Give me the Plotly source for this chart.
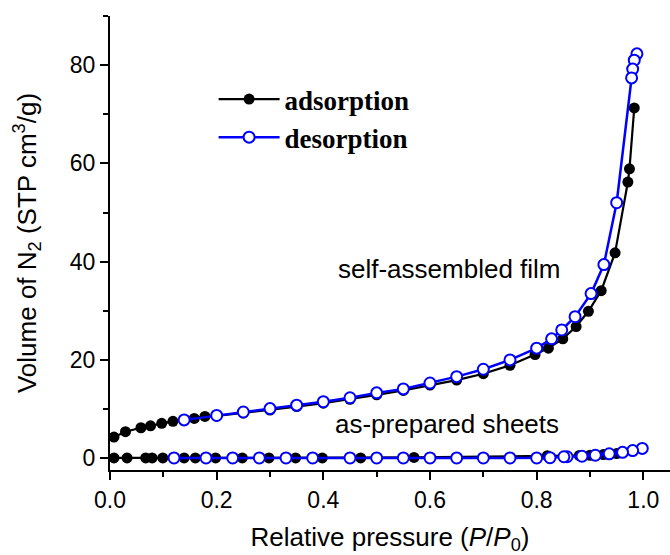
import plotly.graph_objects as go

# Self-assembled film
film_ads_x = [0.0075, 0.029, 0.058, 0.076, 0.097, 0.118, 0.158, 0.178, 0.20, 0.25, 0.30, 0.35, 0.40,
              0.45, 0.50, 0.55, 0.60, 0.65, 0.70, 0.75, 0.797, 0.822, 0.849, 0.874, 0.897, 0.921,
              0.947, 0.971, 0.974, 0.983]
film_ads_y = [4.3, 5.4, 6.2, 6.6, 7.1, 7.5, 8.1, 8.5, 8.6, 9.2, 9.8, 10.5, 11.2,
              12.0, 12.9, 13.8, 14.9, 15.9, 17.2, 18.9, 21.1, 22.4, 24.3, 26.8, 29.9, 34.1,
              41.8, 56.2, 58.9, 71.3]
film_des_x = [0.988, 0.983, 0.980, 0.978, 0.950, 0.926, 0.902, 0.872, 0.847, 0.828, 0.80, 0.75,
              0.70, 0.65, 0.60, 0.55, 0.50, 0.45, 0.40, 0.35, 0.30, 0.25, 0.20, 0.139]
film_des_y = [82.3, 81.0, 79.2, 77.4, 52.0, 39.4, 33.5, 28.8, 26.1, 24.3, 22.4, 20.0,
              18.1, 16.6, 15.3, 14.1, 13.3, 12.3, 11.5, 10.8, 10.1, 9.4, 8.7, 7.8]

# As-prepared sheets
sheet_ads_x = [0.0075, 0.032, 0.067, 0.079, 0.099, 0.139, 0.160, 0.198, 0.248, 0.298, 0.348,
               0.398, 0.470, 0.570, 0.82, 0.88, 0.90, 0.925, 0.95]
sheet_ads_y = [0.05, 0.05, 0.05, 0.05, 0.05, 0.05, 0.05, 0.05, 0.05, 0.05, 0.05,
               0.05, 0.05, 0.15, 0.5, 0.55, 0.6, 0.75, 0.95]
sheet_des_x = [0.998, 0.980, 0.961, 0.936, 0.910, 0.885, 0.857, 0.851, 0.825, 0.80, 0.75, 0.70,
               0.65, 0.60, 0.55, 0.50, 0.45, 0.38, 0.33, 0.28, 0.23, 0.18, 0.12]
sheet_des_y = [2.0, 1.55, 1.2, 0.9, 0.6, 0.4, 0.3, 0.3, 0.1, 0.05, 0.05, 0.05,
               0.05, 0.05, 0.05, 0.05, 0.05, 0.05, 0.05, 0.05, 0.05, 0.05, 0.05]

x_ticks = [0.0, 0.2, 0.4, 0.6, 0.8, 1.0]
x_tick_labels = ["0.0", "0.2", "0.4", "0.6", "0.8", "1.0"]
y_ticks = [0, 20, 40, 60, 80]
y_tick_labels = ["0", "20", "40", "60", "80"]

BLUE = "#0000FF"
ads_style = dict(mode="lines+markers", line=dict(color="black", width=2.2),
                 marker=dict(symbol="circle", size=11, color="black"))
des_style = dict(mode="lines+markers", line=dict(color=BLUE, width=2.5),
                 marker=dict(symbol="circle", size=11, color="white", line=dict(color=BLUE, width=2)))

fig = go.Figure()
fig.add_trace(go.Scatter(x=film_ads_x, y=film_ads_y, name="adsorption", legendgroup="ads",
                         showlegend=True, **ads_style))
fig.add_trace(go.Scatter(x=sheet_ads_x, y=sheet_ads_y, name="adsorption", legendgroup="ads",
                         showlegend=False, **ads_style))
fig.add_trace(go.Scatter(x=film_des_x, y=film_des_y, name="desorption", legendgroup="des",
                         showlegend=True, **des_style))
fig.add_trace(go.Scatter(x=sheet_des_x, y=sheet_des_y, name="desorption", legendgroup="des",
                         showlegend=False, **des_style))

ann_font = dict(family="Liberation Sans, Arial, sans-serif", size=26, color="black")
fig.add_annotation(x=0.637, y=38.5, xref="x", yref="y", text="self-assembled film",
                   showarrow=False, font=ann_font)
fig.add_annotation(x=0.632, y=7.0, xref="x", yref="y", text="as-prepared sheets",
                   showarrow=False, font=ann_font)

axis_common = dict(showgrid=False, zeroline=False, showline=True, linecolor="black", linewidth=2,
                   ticks="outside", ticklen=8, tickwidth=2, tickcolor="black",
                   tickfont=dict(family="Liberation Sans, Arial, sans-serif", size=23, color="black"),
                   mirror=False)

fig.update_layout(
    width=670, height=555,
    margin=dict(l=110, r=0, t=16, b=85),
    plot_bgcolor="white", paper_bgcolor="white",
    xaxis=dict(range=[0, 1.05], tickvals=x_ticks, ticktext=x_tick_labels,
               minor=dict(ticks="outside", ticklen=5, tickwidth=2, tickcolor="black", dtick=0.1, tick0=0),
               title=dict(text="Relative pressure (<i>P</i>/<i>P</i><sub>0</sub>)",
                          font=dict(family="Liberation Sans, Arial, sans-serif", size=26, color="black"),
                          standoff=17),
               **axis_common),
    yaxis=dict(range=[-2.4, 90], tickvals=y_ticks, ticktext=y_tick_labels,
               minor=dict(ticks="outside", ticklen=5, tickwidth=2, tickcolor="black", dtick=10, tick0=0),
               title=dict(text="Volume of N<sub>2</sub> (STP cm<sup>3</sup>/g)",
                          font=dict(family="Liberation Sans, Arial, sans-serif", size=26, color="black"),
                          standoff=26),
               **axis_common),
    legend=dict(x=0.185, y=0.87, xanchor="left", yanchor="top", bgcolor="rgba(0,0,0,0)",
                font=dict(family="Liberation Serif, Times New Roman, serif", size=27, color="black",
                          weight="bold"),
                tracegroupgap=0, itemwidth=61),
    showlegend=True,
)

fig.write_html("out.html")
